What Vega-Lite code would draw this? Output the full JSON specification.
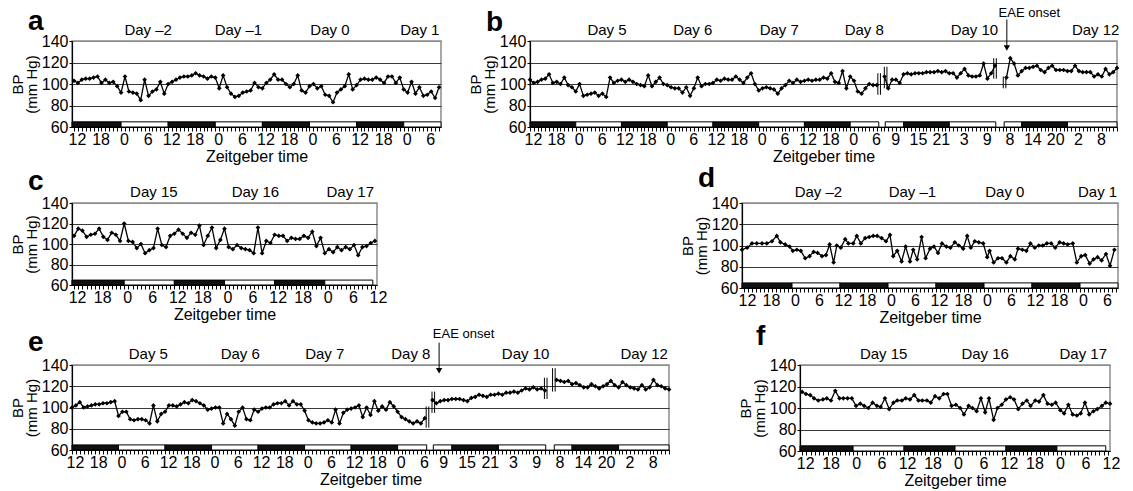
{
"$schema": "https://vega.github.io/schema/vega-lite/v6.json",
"padding": {"left": 9, "top": 6, "right": 0, "bottom": 0},
"bounds": "flush",
"spacing": 162,
"vconcat": [
 {"hconcat": [
  {"width": 369, "height": 86, "title": {"text": "a", "dy": 17},
   "encoding": {"x": {"field": "h", "type": "quantitative", "scale": {"domain": [-0.5, 93.5], "nice": false, "zero": false}, "axis": {"title": "Zeitgeber time", "tickCount": 94, "labelExpr": "datum.value % 6 === 0 ? '' + ((datum.value + 12) % 24) : ''"}}},
   "layer": [
    {"data": {"name": "phAD"}, "mark": {"type": "rect", "stroke": "black", "strokeWidth": 1}, "encoding": {"x2": {"field": "h2"}, "y": {"datum": 60, "type": "quantitative", "scale": {"domain": [60, 140], "nice": false, "zero": false}, "axis": {"title": ["BP", "(mm Hg)"], "values": [60, 80, 100, 120, 140], "gridColor": {"condition": {"test": "datum.value === 140", "value": "#8c8c8c"}, "value": "#3a3a3a"}}}, "y2": {"datum": 64.8}, "fill": {"field": "p", "type": "nominal", "scale": {"domain": ["dark", "light"], "range": ["#111111", "#ffffff"]}, "legend": null}}},
    {"data": {"name": "bpA"}, "mark": {"type": "line", "color": "black", "strokeWidth": 1.3}, "encoding": {"y": {"field": "bp", "type": "quantitative", "scale": {"domain": [60, 140], "nice": false, "zero": false}, "axis": {"title": ["BP", "(mm Hg)"], "values": [60, 80, 100, 120, 140], "gridColor": {"condition": {"test": "datum.value === 140", "value": "#8c8c8c"}, "value": "#3a3a3a"}}}}},
    {"data": {"name": "bpA"}, "mark": {"type": "point", "shape": "diamond", "filled": true, "color": "black", "size": 22, "opacity": 1}, "encoding": {"y": {"field": "bp", "type": "quantitative", "scale": {"domain": [60, 140], "nice": false, "zero": false}, "axis": {"title": ["BP", "(mm Hg)"], "values": [60, 80, 100, 120, 140], "gridColor": {"condition": {"test": "datum.value === 140", "value": "#8c8c8c"}, "value": "#3a3a3a"}}}}},
    {"data": {"name": "daysA"}, "mark": {"type": "text", "dy": -6, "baseline": "alphabetic", "fontSize": 15}, "encoding": {"y": {"datum": 140, "type": "quantitative", "scale": {"domain": [60, 140], "nice": false, "zero": false}, "axis": {"title": ["BP", "(mm Hg)"], "values": [60, 80, 100, 120, 140], "gridColor": {"condition": {"test": "datum.value === 140", "value": "#8c8c8c"}, "value": "#3a3a3a"}}}, "text": {"field": "label"}}}
   ]},
  {"width": 587, "height": 86, "title": {"text": "b", "dy": 34},
   "encoding": {"x": {"field": "h", "type": "quantitative", "scale": {"domain": [0, 154], "nice": false, "zero": false}, "axis": {"title": "Zeitgeber time", "tickCount": 155, "labelExpr": "indexof([0,6,12,18,24,30,36,42,48,54,60,66,72,78,84,90,95,101,107,113,119,125,131,137,143,149], datum.value) >= 0 ? '' + (datum.value < 92 ? (datum.value + 12) % 24 : datum.value < 124 ? (datum.value - 86) % 24 : (datum.value - 117) % 24) : ''"}}},
   "layer": [
    {"data": {"name": "phBE"}, "mark": {"type": "rect", "stroke": "black", "strokeWidth": 1}, "encoding": {"x2": {"field": "h2"}, "y": {"datum": 60, "type": "quantitative", "scale": {"domain": [60, 140], "nice": false, "zero": false}, "axis": {"title": ["BP", "(mm Hg)"], "values": [60, 80, 100, 120, 140], "gridColor": {"condition": {"test": "datum.value === 140", "value": "#8c8c8c"}, "value": "#3a3a3a"}}}, "y2": {"datum": 64.8}, "fill": {"field": "p", "type": "nominal", "scale": {"domain": ["dark", "light"], "range": ["#111111", "#ffffff"]}, "legend": null}}},
    {"data": {"name": "bpB"}, "mark": {"type": "line", "color": "black", "strokeWidth": 1.3}, "encoding": {"detail": {"field": "s", "type": "nominal"}, "y": {"field": "bp", "type": "quantitative", "scale": {"domain": [60, 140], "nice": false, "zero": false}, "axis": {"title": ["BP", "(mm Hg)"], "values": [60, 80, 100, 120, 140], "gridColor": {"condition": {"test": "datum.value === 140", "value": "#8c8c8c"}, "value": "#3a3a3a"}}}}},
    {"data": {"name": "bpB"}, "mark": {"type": "point", "shape": "diamond", "filled": true, "color": "black", "size": 22, "opacity": 1}, "encoding": {"y": {"field": "bp", "type": "quantitative", "scale": {"domain": [60, 140], "nice": false, "zero": false}, "axis": {"title": ["BP", "(mm Hg)"], "values": [60, 80, 100, 120, 140], "gridColor": {"condition": {"test": "datum.value === 140", "value": "#8c8c8c"}, "value": "#3a3a3a"}}}}},
    {"data": {"name": "brB"}, "mark": {"type": "rule", "color": "black", "strokeWidth": 1, "xOffset": -1.3}, "encoding": {"y": {"field": "lo", "type": "quantitative", "scale": {"domain": [60, 140], "nice": false, "zero": false}, "axis": {"title": ["BP", "(mm Hg)"], "values": [60, 80, 100, 120, 140], "gridColor": {"condition": {"test": "datum.value === 140", "value": "#8c8c8c"}, "value": "#3a3a3a"}}}, "y2": {"field": "hi"}}},
    {"data": {"name": "brB"}, "mark": {"type": "rule", "color": "black", "strokeWidth": 1, "xOffset": 1.3}, "encoding": {"y": {"field": "lo", "type": "quantitative", "scale": {"domain": [60, 140], "nice": false, "zero": false}, "axis": {"title": ["BP", "(mm Hg)"], "values": [60, 80, 100, 120, 140], "gridColor": {"condition": {"test": "datum.value === 140", "value": "#8c8c8c"}, "value": "#3a3a3a"}}}, "y2": {"field": "hi"}}},
    {"data": {"name": "eaeB"}, "mark": {"type": "rule", "color": "black", "strokeWidth": 1}, "encoding": {"y": {"datum": 160, "type": "quantitative", "scale": {"domain": [60, 140], "nice": false, "zero": false}, "axis": {"title": ["BP", "(mm Hg)"], "values": [60, 80, 100, 120, 140], "gridColor": {"condition": {"test": "datum.value === 140", "value": "#8c8c8c"}, "value": "#3a3a3a"}}}, "y2": {"datum": 135}}},
    {"data": {"name": "eaeB"}, "mark": {"type": "point", "shape": "triangle-down", "filled": true, "color": "black", "size": 40, "opacity": 1}, "encoding": {"y": {"datum": 133.5, "type": "quantitative", "scale": {"domain": [60, 140], "nice": false, "zero": false}, "axis": {"title": ["BP", "(mm Hg)"], "values": [60, 80, 100, 120, 140], "gridColor": {"condition": {"test": "datum.value === 140", "value": "#8c8c8c"}, "value": "#3a3a3a"}}}}},
    {"data": {"name": "eaeB"}, "mark": {"type": "text", "dy": -24, "baseline": "alphabetic", "fontSize": 13}, "encoding": {"x": {"field": "ht", "type": "quantitative"}, "y": {"datum": 140, "type": "quantitative", "scale": {"domain": [60, 140], "nice": false, "zero": false}, "axis": {"title": ["BP", "(mm Hg)"], "values": [60, 80, 100, 120, 140], "gridColor": {"condition": {"test": "datum.value === 140", "value": "#8c8c8c"}, "value": "#3a3a3a"}}}, "text": {"field": "label"}}},
    {"data": {"name": "daysB"}, "mark": {"type": "text", "dy": -6, "baseline": "alphabetic", "fontSize": 15}, "encoding": {"y": {"datum": 140, "type": "quantitative", "scale": {"domain": [60, 140], "nice": false, "zero": false}, "axis": {"title": ["BP", "(mm Hg)"], "values": [60, 80, 100, 120, 140], "gridColor": {"condition": {"test": "datum.value === 140", "value": "#8c8c8c"}, "value": "#3a3a3a"}}}, "text": {"field": "label"}}}
   ]}
 ], "spacing": 89, "bounds": "flush"},
 {"hconcat": [
  {"width": 305, "height": 82, "title": {"text": "c", "dy": 15},
   "encoding": {"x": {"field": "h", "type": "quantitative", "scale": {"domain": [-0.5, 72.5], "nice": false, "zero": false}, "axis": {"title": "Zeitgeber time", "tickCount": 73, "labelExpr": "datum.value % 6 === 0 ? '' + ((datum.value + 12) % 24) : ''"}}},
   "layer": [
    {"data": {"name": "phCF"}, "mark": {"type": "rect", "stroke": "black", "strokeWidth": 1}, "encoding": {"x2": {"field": "h2"}, "y": {"datum": 60, "type": "quantitative", "scale": {"domain": [60, 140], "nice": false, "zero": false}, "axis": {"title": ["BP", "(mm Hg)"], "values": [60, 80, 100, 120, 140], "gridColor": {"condition": {"test": "datum.value === 140", "value": "#8c8c8c"}, "value": "#3a3a3a"}}}, "y2": {"datum": 64.8}, "fill": {"field": "p", "type": "nominal", "scale": {"domain": ["dark", "light"], "range": ["#111111", "#ffffff"]}, "legend": null}}},
    {"data": {"name": "bpC"}, "mark": {"type": "line", "color": "black", "strokeWidth": 1.3}, "encoding": {"y": {"field": "bp", "type": "quantitative", "scale": {"domain": [60, 140], "nice": false, "zero": false}, "axis": {"title": ["BP", "(mm Hg)"], "values": [60, 80, 100, 120, 140], "gridColor": {"condition": {"test": "datum.value === 140", "value": "#8c8c8c"}, "value": "#3a3a3a"}}}}},
    {"data": {"name": "bpC"}, "mark": {"type": "point", "shape": "diamond", "filled": true, "color": "black", "size": 22, "opacity": 1}, "encoding": {"y": {"field": "bp", "type": "quantitative", "scale": {"domain": [60, 140], "nice": false, "zero": false}, "axis": {"title": ["BP", "(mm Hg)"], "values": [60, 80, 100, 120, 140], "gridColor": {"condition": {"test": "datum.value === 140", "value": "#8c8c8c"}, "value": "#3a3a3a"}}}}},
    {"data": {"name": "daysC"}, "mark": {"type": "text", "dy": -6, "baseline": "alphabetic", "fontSize": 15}, "encoding": {"y": {"datum": 140, "type": "quantitative", "scale": {"domain": [60, 140], "nice": false, "zero": false}, "axis": {"title": ["BP", "(mm Hg)"], "values": [60, 80, 100, 120, 140], "gridColor": {"condition": {"test": "datum.value === 140", "value": "#8c8c8c"}, "value": "#3a3a3a"}}}, "text": {"field": "label"}}}
   ]},
  {"width": 376, "height": 85, "title": {"text": "d", "dy": 12},
   "encoding": {"x": {"field": "h", "type": "quantitative", "scale": {"domain": [-0.5, 93.5], "nice": false, "zero": false}, "axis": {"title": "Zeitgeber time", "tickCount": 94, "labelExpr": "datum.value % 6 === 0 ? '' + ((datum.value + 12) % 24) : ''"}}},
   "layer": [
    {"data": {"name": "phAD"}, "mark": {"type": "rect", "stroke": "black", "strokeWidth": 1}, "encoding": {"x2": {"field": "h2"}, "y": {"datum": 60, "type": "quantitative", "scale": {"domain": [60, 140], "nice": false, "zero": false}, "axis": {"title": ["BP", "(mm Hg)"], "values": [60, 80, 100, 120, 140], "gridColor": {"condition": {"test": "datum.value === 140", "value": "#8c8c8c"}, "value": "#3a3a3a"}}}, "y2": {"datum": 64.8}, "fill": {"field": "p", "type": "nominal", "scale": {"domain": ["dark", "light"], "range": ["#111111", "#ffffff"]}, "legend": null}}},
    {"data": {"name": "bpD"}, "mark": {"type": "line", "color": "black", "strokeWidth": 1.3}, "encoding": {"y": {"field": "bp", "type": "quantitative", "scale": {"domain": [60, 140], "nice": false, "zero": false}, "axis": {"title": ["BP", "(mm Hg)"], "values": [60, 80, 100, 120, 140], "gridColor": {"condition": {"test": "datum.value === 140", "value": "#8c8c8c"}, "value": "#3a3a3a"}}}}},
    {"data": {"name": "bpD"}, "mark": {"type": "point", "shape": "diamond", "filled": true, "color": "black", "size": 22, "opacity": 1}, "encoding": {"y": {"field": "bp", "type": "quantitative", "scale": {"domain": [60, 140], "nice": false, "zero": false}, "axis": {"title": ["BP", "(mm Hg)"], "values": [60, 80, 100, 120, 140], "gridColor": {"condition": {"test": "datum.value === 140", "value": "#8c8c8c"}, "value": "#3a3a3a"}}}}},
    {"data": {"name": "daysD"}, "mark": {"type": "text", "dy": -6, "baseline": "alphabetic", "fontSize": 15}, "encoding": {"y": {"datum": 140, "type": "quantitative", "scale": {"domain": [60, 140], "nice": false, "zero": false}, "axis": {"title": ["BP", "(mm Hg)"], "values": [60, 80, 100, 120, 140], "gridColor": {"condition": {"test": "datum.value === 140", "value": "#8c8c8c"}, "value": "#3a3a3a"}}}, "text": {"field": "label"}}}
   ]}
 ], "spacing": 365, "bounds": "flush"},
 {"hconcat": [
  {"width": 597, "height": 85, "title": {"text": "e", "dy": 33},
   "encoding": {"x": {"field": "h", "type": "quantitative", "scale": {"domain": [0, 154], "nice": false, "zero": false}, "axis": {"title": "Zeitgeber time", "tickCount": 155, "labelExpr": "indexof([0,6,12,18,24,30,36,42,48,54,60,66,72,78,84,90,95,101,107,113,119,125,131,137,143,149], datum.value) >= 0 ? '' + (datum.value < 92 ? (datum.value + 12) % 24 : datum.value < 124 ? (datum.value - 86) % 24 : (datum.value - 117) % 24) : ''"}}},
   "layer": [
    {"data": {"name": "phBE"}, "mark": {"type": "rect", "stroke": "black", "strokeWidth": 1}, "encoding": {"x2": {"field": "h2"}, "y": {"datum": 60, "type": "quantitative", "scale": {"domain": [60, 140], "nice": false, "zero": false}, "axis": {"title": ["BP", "(mm Hg)"], "values": [60, 80, 100, 120, 140], "gridColor": {"condition": {"test": "datum.value === 140", "value": "#8c8c8c"}, "value": "#3a3a3a"}}}, "y2": {"datum": 64.8}, "fill": {"field": "p", "type": "nominal", "scale": {"domain": ["dark", "light"], "range": ["#111111", "#ffffff"]}, "legend": null}}},
    {"data": {"name": "bpE"}, "mark": {"type": "line", "color": "black", "strokeWidth": 1.3}, "encoding": {"detail": {"field": "s", "type": "nominal"}, "y": {"field": "bp", "type": "quantitative", "scale": {"domain": [60, 140], "nice": false, "zero": false}, "axis": {"title": ["BP", "(mm Hg)"], "values": [60, 80, 100, 120, 140], "gridColor": {"condition": {"test": "datum.value === 140", "value": "#8c8c8c"}, "value": "#3a3a3a"}}}}},
    {"data": {"name": "bpE"}, "mark": {"type": "point", "shape": "diamond", "filled": true, "color": "black", "size": 22, "opacity": 1}, "encoding": {"y": {"field": "bp", "type": "quantitative", "scale": {"domain": [60, 140], "nice": false, "zero": false}, "axis": {"title": ["BP", "(mm Hg)"], "values": [60, 80, 100, 120, 140], "gridColor": {"condition": {"test": "datum.value === 140", "value": "#8c8c8c"}, "value": "#3a3a3a"}}}}},
    {"data": {"name": "brE"}, "mark": {"type": "rule", "color": "black", "strokeWidth": 1, "xOffset": -1.3}, "encoding": {"y": {"field": "lo", "type": "quantitative", "scale": {"domain": [60, 140], "nice": false, "zero": false}, "axis": {"title": ["BP", "(mm Hg)"], "values": [60, 80, 100, 120, 140], "gridColor": {"condition": {"test": "datum.value === 140", "value": "#8c8c8c"}, "value": "#3a3a3a"}}}, "y2": {"field": "hi"}}},
    {"data": {"name": "brE"}, "mark": {"type": "rule", "color": "black", "strokeWidth": 1, "xOffset": 1.3}, "encoding": {"y": {"field": "lo", "type": "quantitative", "scale": {"domain": [60, 140], "nice": false, "zero": false}, "axis": {"title": ["BP", "(mm Hg)"], "values": [60, 80, 100, 120, 140], "gridColor": {"condition": {"test": "datum.value === 140", "value": "#8c8c8c"}, "value": "#3a3a3a"}}}, "y2": {"field": "hi"}}},
    {"data": {"name": "eaeE"}, "mark": {"type": "rule", "color": "black", "strokeWidth": 1}, "encoding": {"y": {"datum": 161, "type": "quantitative", "scale": {"domain": [60, 140], "nice": false, "zero": false}, "axis": {"title": ["BP", "(mm Hg)"], "values": [60, 80, 100, 120, 140], "gridColor": {"condition": {"test": "datum.value === 140", "value": "#8c8c8c"}, "value": "#3a3a3a"}}}, "y2": {"datum": 136}}},
    {"data": {"name": "eaeE"}, "mark": {"type": "point", "shape": "triangle-down", "filled": true, "color": "black", "size": 40, "opacity": 1}, "encoding": {"y": {"datum": 134.5, "type": "quantitative", "scale": {"domain": [60, 140], "nice": false, "zero": false}, "axis": {"title": ["BP", "(mm Hg)"], "values": [60, 80, 100, 120, 140], "gridColor": {"condition": {"test": "datum.value === 140", "value": "#8c8c8c"}, "value": "#3a3a3a"}}}}},
    {"data": {"name": "eaeE"}, "mark": {"type": "text", "dy": -27, "baseline": "alphabetic", "fontSize": 13}, "encoding": {"x": {"field": "ht", "type": "quantitative"}, "y": {"datum": 140, "type": "quantitative", "scale": {"domain": [60, 140], "nice": false, "zero": false}, "axis": {"title": ["BP", "(mm Hg)"], "values": [60, 80, 100, 120, 140], "gridColor": {"condition": {"test": "datum.value === 140", "value": "#8c8c8c"}, "value": "#3a3a3a"}}}, "text": {"field": "label"}}},
    {"data": {"name": "daysE"}, "mark": {"type": "text", "dy": -6, "baseline": "alphabetic", "fontSize": 15}, "encoding": {"y": {"datum": 140, "type": "quantitative", "scale": {"domain": [60, 140], "nice": false, "zero": false}, "axis": {"title": ["BP", "(mm Hg)"], "values": [60, 80, 100, 120, 140], "gridColor": {"condition": {"test": "datum.value === 140", "value": "#8c8c8c"}, "value": "#3a3a3a"}}}, "text": {"field": "label"}}}
   ]},
  {"width": 310, "height": 86, "title": {"text": "f", "dy": 8},
   "encoding": {"x": {"field": "h", "type": "quantitative", "scale": {"domain": [-0.5, 72.5], "nice": false, "zero": false}, "axis": {"title": "Zeitgeber time", "tickCount": 73, "labelExpr": "datum.value % 6 === 0 ? '' + ((datum.value + 12) % 24) : ''"}}},
   "layer": [
    {"data": {"name": "phCF"}, "mark": {"type": "rect", "stroke": "black", "strokeWidth": 1}, "encoding": {"x2": {"field": "h2"}, "y": {"datum": 60, "type": "quantitative", "scale": {"domain": [60, 140], "nice": false, "zero": false}, "axis": {"title": ["BP", "(mm Hg)"], "values": [60, 80, 100, 120, 140], "gridColor": {"condition": {"test": "datum.value === 140", "value": "#8c8c8c"}, "value": "#3a3a3a"}}}, "y2": {"datum": 64.8}, "fill": {"field": "p", "type": "nominal", "scale": {"domain": ["dark", "light"], "range": ["#111111", "#ffffff"]}, "legend": null}}},
    {"data": {"name": "bpF"}, "mark": {"type": "line", "color": "black", "strokeWidth": 1.3}, "encoding": {"y": {"field": "bp", "type": "quantitative", "scale": {"domain": [60, 140], "nice": false, "zero": false}, "axis": {"title": ["BP", "(mm Hg)"], "values": [60, 80, 100, 120, 140], "gridColor": {"condition": {"test": "datum.value === 140", "value": "#8c8c8c"}, "value": "#3a3a3a"}}}}},
    {"data": {"name": "bpF"}, "mark": {"type": "point", "shape": "diamond", "filled": true, "color": "black", "size": 22, "opacity": 1}, "encoding": {"y": {"field": "bp", "type": "quantitative", "scale": {"domain": [60, 140], "nice": false, "zero": false}, "axis": {"title": ["BP", "(mm Hg)"], "values": [60, 80, 100, 120, 140], "gridColor": {"condition": {"test": "datum.value === 140", "value": "#8c8c8c"}, "value": "#3a3a3a"}}}}},
    {"data": {"name": "daysF"}, "mark": {"type": "text", "dy": -6, "baseline": "alphabetic", "fontSize": 15}, "encoding": {"y": {"datum": 140, "type": "quantitative", "scale": {"domain": [60, 140], "nice": false, "zero": false}, "axis": {"title": ["BP", "(mm Hg)"], "values": [60, 80, 100, 120, 140], "gridColor": {"condition": {"test": "datum.value === 140", "value": "#8c8c8c"}, "value": "#3a3a3a"}}}, "text": {"field": "label"}}}
   ]}
 ], "spacing": 131, "bounds": "flush"}
],
"datasets": {
 "phAD": [{"h":-0.5,"h2":12,"p":"dark"},{"h":12,"h2":24,"p":"light"},{"h":24,"h2":36,"p":"dark"},{"h":36,"h2":48,"p":"light"},{"h":48,"h2":60,"p":"dark"},{"h":60,"h2":72,"p":"light"},{"h":72,"h2":84,"p":"dark"},{"h":84,"h2":93.5,"p":"light"}],
 "phBE": [{"h":0,"h2":12,"p":"dark"},{"h":12,"h2":24,"p":"light"},{"h":24,"h2":36,"p":"dark"},{"h":36,"h2":48,"p":"light"},{"h":48,"h2":60,"p":"dark"},{"h":60,"h2":72,"p":"light"},{"h":72,"h2":84,"p":"dark"},{"h":84,"h2":91.5,"p":"light"},{"h":93.2,"h2":98,"p":"light"},{"h":98,"h2":110,"p":"dark"},{"h":110,"h2":122.2,"p":"light"},{"h":124.4,"h2":129,"p":"light"},{"h":129,"h2":141,"p":"dark"},{"h":141,"h2":154,"p":"light"}],
 "phCF": [{"h":-0.5,"h2":12,"p":"dark"},{"h":12,"h2":24,"p":"light"},{"h":24,"h2":36,"p":"dark"},{"h":36,"h2":48,"p":"light"},{"h":48,"h2":60,"p":"dark"},{"h":60,"h2":71.5,"p":"light"}],
 "daysA": [{"h":18.9,"label":"Day –2"},{"h":41.9,"label":"Day –1"},{"h":65.2,"label":"Day 0"},{"h":88.1,"label":"Day 1"}],
 "daysB": [{"h":20.2,"label":"Day 5"},{"h":42.7,"label":"Day 6"},{"h":65.4,"label":"Day 7"},{"h":87.7,"label":"Day 8"},{"h":116.6,"label":"Day 10"},{"h":148.4,"label":"Day 12"}],
 "daysC": [{"h":19.1,"label":"Day 15"},{"h":43.4,"label":"Day  16"},{"h":66.1,"label":"Day 17"}],
 "daysD": [{"h":18.6,"label":"Day –2"},{"h":42.1,"label":"Day –1"},{"h":65.2,"label":"Day 0"},{"h":88.4,"label":"Day 1"}],
 "daysE": [{"h":19.7,"label":"Day 5"},{"h":43.4,"label":"Day  6"},{"h":65.2,"label":"Day 7"},{"h":87.4,"label":"Day 8"},{"h":117,"label":"Day  10"},{"h":147.6,"label":"Day 12"}],
 "daysF": [{"h":19.2,"label":"Day 15"},{"h":43.1,"label":"Day 16"},{"h":66.2,"label":"Day 17"}],
 "eaeB": [{"h":125.1,"ht":131,"label":"EAE onset"}],
 "eaeE": [{"h":94.7,"ht":101,"label":"EAE onset"}],
 "brB": [{"h":91.6,"lo":90,"hi":110},{"h":93.3,"lo":96,"hi":116},{"h":122,"lo":105,"hi":124},{"h":124.5,"lo":96,"hi":107}],
 "brE": [{"h":91.7,"lo":81,"hi":101},{"h":93.2,"lo":95,"hi":115},{"h":122.2,"lo":108,"hi":128},{"h":124.3,"lo":115,"hi":137}],
 "bpA": [{"h":0,"bp":103},{"h":1,"bp":101},{"h":2,"bp":104},{"h":3,"bp":105},{"h":4,"bp":105},{"h":5,"bp":106},{"h":6,"bp":107},{"h":7,"bp":101},{"h":8,"bp":104},{"h":9,"bp":101},{"h":10,"bp":102},{"h":11,"bp":98},{"h":12,"bp":92},{"h":13,"bp":107},{"h":14,"bp":93},{"h":15,"bp":92},{"h":16,"bp":91},{"h":17,"bp":85},{"h":18,"bp":104},{"h":19,"bp":89},{"h":20,"bp":93},{"h":21,"bp":95},{"h":22,"bp":102},{"h":23,"bp":91},{"h":24,"bp":100},{"h":25,"bp":102},{"h":26,"bp":104},{"h":27,"bp":106},{"h":28,"bp":107},{"h":29,"bp":107},{"h":30,"bp":108},{"h":31,"bp":110},{"h":32,"bp":108},{"h":33,"bp":107},{"h":34,"bp":105},{"h":35,"bp":107},{"h":36,"bp":106},{"h":37,"bp":96},{"h":38,"bp":108},{"h":39,"bp":97},{"h":40,"bp":91},{"h":41,"bp":88},{"h":42,"bp":89},{"h":43,"bp":92},{"h":44,"bp":93},{"h":45,"bp":94},{"h":46,"bp":101},{"h":47,"bp":97},{"h":48,"bp":96},{"h":49,"bp":101},{"h":50,"bp":104},{"h":51,"bp":109},{"h":52,"bp":104},{"h":53,"bp":104},{"h":54,"bp":100},{"h":55,"bp":97},{"h":56,"bp":100},{"h":57,"bp":108},{"h":58,"bp":94},{"h":59,"bp":92},{"h":60,"bp":98},{"h":61,"bp":100},{"h":62,"bp":96},{"h":63,"bp":98},{"h":64,"bp":90},{"h":65,"bp":89},{"h":66,"bp":83},{"h":67,"bp":92},{"h":68,"bp":95},{"h":69,"bp":98},{"h":70,"bp":109},{"h":71,"bp":95},{"h":72,"bp":99},{"h":73,"bp":104},{"h":74,"bp":105},{"h":75,"bp":104},{"h":76,"bp":104},{"h":77,"bp":106},{"h":78,"bp":104},{"h":79,"bp":101},{"h":80,"bp":107},{"h":81,"bp":107},{"h":82,"bp":101},{"h":83,"bp":106},{"h":84,"bp":95},{"h":85,"bp":92},{"h":86,"bp":102},{"h":87,"bp":91},{"h":88,"bp":97},{"h":89,"bp":89},{"h":90,"bp":90},{"h":91,"bp":93},{"h":92,"bp":87},{"h":93,"bp":97}],
 "bpB": [{"s":1,"h":0,"bp":104},{"s":1,"h":1,"bp":101},{"s":1,"h":2,"bp":102},{"s":1,"h":3,"bp":104},{"s":1,"h":4,"bp":105},{"s":1,"h":5,"bp":109},{"s":1,"h":6,"bp":101},{"s":1,"h":7,"bp":102},{"s":1,"h":8,"bp":100},{"s":1,"h":9,"bp":106},{"s":1,"h":10,"bp":99},{"s":1,"h":11,"bp":97},{"s":1,"h":12,"bp":93},{"s":1,"h":13,"bp":100},{"s":1,"h":14,"bp":89},{"s":1,"h":15,"bp":90},{"s":1,"h":16,"bp":91},{"s":1,"h":17,"bp":92},{"s":1,"h":18,"bp":89},{"s":1,"h":19,"bp":91},{"s":1,"h":20,"bp":88},{"s":1,"h":21,"bp":106},{"s":1,"h":22,"bp":101},{"s":1,"h":23,"bp":103},{"s":1,"h":24,"bp":104},{"s":1,"h":25,"bp":102},{"s":1,"h":26,"bp":104},{"s":1,"h":27,"bp":102},{"s":1,"h":28,"bp":100},{"s":1,"h":29,"bp":99},{"s":1,"h":30,"bp":98},{"s":1,"h":31,"bp":108},{"s":1,"h":32,"bp":98},{"s":1,"h":33,"bp":102},{"s":1,"h":34,"bp":106},{"s":1,"h":35,"bp":100},{"s":1,"h":36,"bp":99},{"s":1,"h":37,"bp":97},{"s":1,"h":38,"bp":96},{"s":1,"h":39,"bp":96},{"s":1,"h":40,"bp":92},{"s":1,"h":41,"bp":97},{"s":1,"h":42,"bp":89},{"s":1,"h":43,"bp":96},{"s":1,"h":44,"bp":106},{"s":1,"h":45,"bp":98},{"s":1,"h":46,"bp":100},{"s":1,"h":47,"bp":100},{"s":1,"h":48,"bp":101},{"s":1,"h":49,"bp":104},{"s":1,"h":50,"bp":103},{"s":1,"h":51,"bp":105},{"s":1,"h":52,"bp":104},{"s":1,"h":53,"bp":104},{"s":1,"h":54,"bp":107},{"s":1,"h":55,"bp":104},{"s":1,"h":56,"bp":101},{"s":1,"h":57,"bp":106},{"s":1,"h":58,"bp":110},{"s":1,"h":59,"bp":100},{"s":1,"h":60,"bp":94},{"s":1,"h":61,"bp":96},{"s":1,"h":62,"bp":97},{"s":1,"h":63,"bp":96},{"s":1,"h":64,"bp":95},{"s":1,"h":65,"bp":91},{"s":1,"h":66,"bp":96},{"s":1,"h":67,"bp":99},{"s":1,"h":68,"bp":103},{"s":1,"h":69,"bp":101},{"s":1,"h":70,"bp":104},{"s":1,"h":71,"bp":102},{"s":1,"h":72,"bp":103},{"s":1,"h":73,"bp":104},{"s":1,"h":74,"bp":103},{"s":1,"h":75,"bp":104},{"s":1,"h":76,"bp":104},{"s":1,"h":77,"bp":106},{"s":1,"h":78,"bp":105},{"s":1,"h":79,"bp":110},{"s":1,"h":80,"bp":102},{"s":1,"h":81,"bp":101},{"s":1,"h":82,"bp":112},{"s":1,"h":83,"bp":96},{"s":1,"h":84,"bp":107},{"s":1,"h":85,"bp":103},{"s":1,"h":86,"bp":93},{"s":1,"h":87,"bp":91},{"s":1,"h":88,"bp":96},{"s":1,"h":89,"bp":100},{"s":1,"h":90,"bp":99},{"s":1,"h":91,"bp":99},
  {"s":2,"h":93,"bp":107},{"s":2,"h":94,"bp":96},{"s":2,"h":95,"bp":104},{"s":2,"h":96,"bp":104},{"s":2,"h":97,"bp":101},{"s":2,"h":98,"bp":109},{"s":2,"h":99,"bp":110},{"s":2,"h":100,"bp":109},{"s":2,"h":101,"bp":110},{"s":2,"h":102,"bp":110},{"s":2,"h":103,"bp":110},{"s":2,"h":104,"bp":111},{"s":2,"h":105,"bp":111},{"s":2,"h":106,"bp":111},{"s":2,"h":107,"bp":112},{"s":2,"h":108,"bp":111},{"s":2,"h":109,"bp":112},{"s":2,"h":110,"bp":110},{"s":2,"h":111,"bp":110},{"s":2,"h":112,"bp":106},{"s":2,"h":113,"bp":110},{"s":2,"h":114,"bp":114},{"s":2,"h":115,"bp":108},{"s":2,"h":116,"bp":107},{"s":2,"h":117,"bp":107},{"s":2,"h":118,"bp":108},{"s":2,"h":119,"bp":119},{"s":2,"h":120,"bp":105},{"s":2,"h":121,"bp":110},{"s":2,"h":122,"bp":117},
  {"s":3,"h":125,"bp":106},{"s":3,"h":126,"bp":124},{"s":3,"h":127,"bp":119},{"s":3,"h":128,"bp":108},{"s":3,"h":129,"bp":112},{"s":3,"h":130,"bp":115},{"s":3,"h":131,"bp":115},{"s":3,"h":132,"bp":116},{"s":3,"h":133,"bp":117},{"s":3,"h":134,"bp":113},{"s":3,"h":135,"bp":111},{"s":3,"h":136,"bp":115},{"s":3,"h":137,"bp":117},{"s":3,"h":138,"bp":113},{"s":3,"h":139,"bp":113},{"s":3,"h":140,"bp":113},{"s":3,"h":141,"bp":112},{"s":3,"h":142,"bp":112},{"s":3,"h":143,"bp":117},{"s":3,"h":144,"bp":112},{"s":3,"h":145,"bp":111},{"s":3,"h":146,"bp":111},{"s":3,"h":147,"bp":111},{"s":3,"h":148,"bp":107},{"s":3,"h":149,"bp":109},{"s":3,"h":150,"bp":107},{"s":3,"h":151,"bp":114},{"s":3,"h":152,"bp":109},{"s":3,"h":153,"bp":111},{"s":3,"h":154,"bp":115}],
 "bpC": [{"h":0,"bp":108},{"h":1,"bp":115},{"h":2,"bp":113},{"h":3,"bp":107},{"h":4,"bp":109},{"h":5,"bp":110},{"h":6,"bp":115},{"h":7,"bp":107},{"h":8,"bp":104},{"h":9,"bp":111},{"h":10,"bp":109},{"h":11,"bp":103},{"h":12,"bp":120},{"h":13,"bp":103},{"h":14,"bp":102},{"h":15,"bp":96},{"h":16,"bp":100},{"h":17,"bp":91},{"h":18,"bp":94},{"h":19,"bp":96},{"h":20,"bp":115},{"h":21,"bp":99},{"h":22,"bp":97},{"h":23,"bp":108},{"h":24,"bp":110},{"h":25,"bp":114},{"h":26,"bp":110},{"h":27,"bp":106},{"h":28,"bp":111},{"h":29,"bp":109},{"h":30,"bp":118},{"h":31,"bp":99},{"h":32,"bp":108},{"h":33,"bp":116},{"h":34,"bp":96},{"h":35,"bp":104},{"h":36,"bp":115},{"h":37,"bp":97},{"h":38,"bp":95},{"h":39,"bp":99},{"h":40,"bp":96},{"h":41,"bp":95},{"h":42,"bp":94},{"h":43,"bp":91},{"h":44,"bp":116},{"h":45,"bp":91},{"h":46,"bp":103},{"h":47,"bp":101},{"h":48,"bp":109},{"h":49,"bp":108},{"h":50,"bp":108},{"h":51,"bp":103},{"h":52,"bp":106},{"h":53,"bp":105},{"h":54,"bp":105},{"h":55,"bp":108},{"h":56,"bp":106},{"h":57,"bp":112},{"h":58,"bp":98},{"h":59,"bp":106},{"h":60,"bp":91},{"h":61,"bp":95},{"h":62,"bp":92},{"h":63,"bp":97},{"h":64,"bp":94},{"h":65,"bp":97},{"h":66,"bp":95},{"h":67,"bp":99},{"h":68,"bp":89},{"h":69,"bp":97},{"h":70,"bp":98},{"h":71,"bp":101},{"h":72,"bp":103}],
 "bpD": [{"h":-0.5,"bp":96},{"h":0.8,"bp":98},{"h":2,"bp":102},{"h":3.2,"bp":102},{"h":4.5,"bp":102},{"h":5.7,"bp":102},{"h":7,"bp":104},{"h":8.2,"bp":109},{"h":9.1,"bp":103},{"h":10.3,"bp":101},{"h":11.4,"bp":99},{"h":12.2,"bp":95},{"h":13.2,"bp":96},{"h":14.2,"bp":95},{"h":15.3,"bp":88},{"h":16.4,"bp":90},{"h":17.4,"bp":94},{"h":18.4,"bp":93},{"h":19.5,"bp":90},{"h":20.5,"bp":91},{"h":21.4,"bp":101},{"h":22.4,"bp":84},{"h":23.2,"bp":100},{"h":24.2,"bp":98},{"h":25.3,"bp":106},{"h":26.1,"bp":102},{"h":27.3,"bp":102},{"h":28.2,"bp":109},{"h":29.2,"bp":102},{"h":30.3,"bp":107},{"h":31.3,"bp":108},{"h":32.3,"bp":109},{"h":33.3,"bp":109},{"h":34.4,"bp":107},{"h":35.5,"bp":104},{"h":36.5,"bp":110},{"h":37.3,"bp":90},{"h":38.3,"bp":95},{"h":39.4,"bp":85},{"h":40.4,"bp":99},{"h":41.5,"bp":85},{"h":42.3,"bp":96},{"h":43.3,"bp":87},{"h":44.4,"bp":108},{"h":45.4,"bp":88},{"h":46.5,"bp":97},{"h":47.5,"bp":99},{"h":48.5,"bp":93},{"h":49.5,"bp":102},{"h":50.6,"bp":99},{"h":51.6,"bp":98},{"h":52.7,"bp":103},{"h":53.7,"bp":100},{"h":54.8,"bp":97},{"h":55.8,"bp":109},{"h":56.7,"bp":98},{"h":57.7,"bp":104},{"h":58.7,"bp":103},{"h":59.8,"bp":102},{"h":60.8,"bp":89},{"h":61.4,"bp":95},{"h":62.4,"bp":84},{"h":63.5,"bp":88},{"h":64.5,"bp":88},{"h":65.6,"bp":84},{"h":66.6,"bp":90},{"h":67.7,"bp":87},{"h":68.5,"bp":97},{"h":69.6,"bp":96},{"h":70.6,"bp":95},{"h":71.6,"bp":102},{"h":72.7,"bp":98},{"h":73.7,"bp":100},{"h":74.7,"bp":100},{"h":75.7,"bp":102},{"h":76.8,"bp":102},{"h":77.8,"bp":98},{"h":78.9,"bp":103},{"h":79.9,"bp":102},{"h":80.9,"bp":101},{"h":82.2,"bp":102},{"h":83.2,"bp":84},{"h":84.3,"bp":90},{"h":85.3,"bp":91},{"h":86.4,"bp":83},{"h":87.4,"bp":87},{"h":88.4,"bp":89},{"h":89.4,"bp":86},{"h":90.5,"bp":92},{"h":91.5,"bp":81},{"h":92.6,"bp":96}],
 "bpE": [{"s":1,"h":0,"bp":100},{"s":1,"h":1,"bp":102},{"s":1,"h":2,"bp":105},{"s":1,"h":3,"bp":100},{"s":1,"h":4,"bp":101},{"s":1,"h":5,"bp":102},{"s":1,"h":6,"bp":103},{"s":1,"h":7,"bp":103},{"s":1,"h":8,"bp":104},{"s":1,"h":9,"bp":104},{"s":1,"h":10,"bp":105},{"s":1,"h":11,"bp":106},{"s":1,"h":12,"bp":92},{"s":1,"h":13,"bp":96},{"s":1,"h":14,"bp":96},{"s":1,"h":15,"bp":89},{"s":1,"h":16,"bp":88},{"s":1,"h":17,"bp":89},{"s":1,"h":18,"bp":89},{"s":1,"h":19,"bp":88},{"s":1,"h":20,"bp":85},{"s":1,"h":21,"bp":102},{"s":1,"h":22,"bp":87},{"s":1,"h":23,"bp":94},{"s":1,"h":24,"bp":96},{"s":1,"h":25,"bp":102},{"s":1,"h":26,"bp":102},{"s":1,"h":27,"bp":101},{"s":1,"h":28,"bp":103},{"s":1,"h":29,"bp":105},{"s":1,"h":30,"bp":104},{"s":1,"h":31,"bp":107},{"s":1,"h":32,"bp":106},{"s":1,"h":33,"bp":104},{"s":1,"h":34,"bp":102},{"s":1,"h":35,"bp":98},{"s":1,"h":36,"bp":99},{"s":1,"h":37,"bp":100},{"s":1,"h":38,"bp":100},{"s":1,"h":39,"bp":85},{"s":1,"h":40,"bp":94},{"s":1,"h":41,"bp":89},{"s":1,"h":42,"bp":83},{"s":1,"h":43,"bp":96},{"s":1,"h":44,"bp":100},{"s":1,"h":45,"bp":89},{"s":1,"h":46,"bp":88},{"s":1,"h":47,"bp":98},{"s":1,"h":48,"bp":96},{"s":1,"h":49,"bp":99},{"s":1,"h":50,"bp":100},{"s":1,"h":51,"bp":100},{"s":1,"h":52,"bp":103},{"s":1,"h":53,"bp":104},{"s":1,"h":54,"bp":104},{"s":1,"h":55,"bp":106},{"s":1,"h":56,"bp":102},{"s":1,"h":57,"bp":106},{"s":1,"h":58,"bp":103},{"s":1,"h":59,"bp":103},{"s":1,"h":60,"bp":97},{"s":1,"h":61,"bp":88},{"s":1,"h":62,"bp":86},{"s":1,"h":63,"bp":85},{"s":1,"h":64,"bp":85},{"s":1,"h":65,"bp":86},{"s":1,"h":66,"bp":88},{"s":1,"h":67,"bp":86},{"s":1,"h":68,"bp":98},{"s":1,"h":69,"bp":85},{"s":1,"h":70,"bp":95},{"s":1,"h":71,"bp":98},{"s":1,"h":72,"bp":99},{"s":1,"h":73,"bp":100},{"s":1,"h":74,"bp":102},{"s":1,"h":75,"bp":91},{"s":1,"h":76,"bp":100},{"s":1,"h":77,"bp":93},{"s":1,"h":78,"bp":106},{"s":1,"h":79,"bp":97},{"s":1,"h":80,"bp":101},{"s":1,"h":81,"bp":98},{"s":1,"h":82,"bp":105},{"s":1,"h":83,"bp":101},{"s":1,"h":84,"bp":96},{"s":1,"h":85,"bp":91},{"s":1,"h":86,"bp":89},{"s":1,"h":87,"bp":87},{"s":1,"h":88,"bp":85},{"s":1,"h":89,"bp":87},{"s":1,"h":90,"bp":85},{"s":1,"h":91,"bp":90},
  {"s":2,"h":93,"bp":107},{"s":2,"h":94,"bp":104},{"s":2,"h":95,"bp":106},{"s":2,"h":96,"bp":107},{"s":2,"h":97,"bp":107},{"s":2,"h":98,"bp":108},{"s":2,"h":99,"bp":108},{"s":2,"h":100,"bp":108},{"s":2,"h":101,"bp":107},{"s":2,"h":102,"bp":106},{"s":2,"h":103,"bp":109},{"s":2,"h":104,"bp":110},{"s":2,"h":105,"bp":112},{"s":2,"h":106,"bp":111},{"s":2,"h":107,"bp":110},{"s":2,"h":108,"bp":112},{"s":2,"h":109,"bp":112},{"s":2,"h":110,"bp":113},{"s":2,"h":111,"bp":112},{"s":2,"h":112,"bp":114},{"s":2,"h":113,"bp":114},{"s":2,"h":114,"bp":115},{"s":2,"h":115,"bp":114},{"s":2,"h":116,"bp":116},{"s":2,"h":117,"bp":118},{"s":2,"h":118,"bp":117},{"s":2,"h":119,"bp":119},{"s":2,"h":120,"bp":117},{"s":2,"h":121,"bp":118},{"s":2,"h":122,"bp":116},
  {"s":3,"h":125,"bp":126},{"s":3,"h":126,"bp":125},{"s":3,"h":127,"bp":124},{"s":3,"h":128,"bp":125},{"s":3,"h":129,"bp":122},{"s":3,"h":130,"bp":123},{"s":3,"h":131,"bp":121},{"s":3,"h":132,"bp":119},{"s":3,"h":133,"bp":119},{"s":3,"h":134,"bp":122},{"s":3,"h":135,"bp":120},{"s":3,"h":136,"bp":118},{"s":3,"h":137,"bp":120},{"s":3,"h":138,"bp":122},{"s":3,"h":139,"bp":125},{"s":3,"h":140,"bp":121},{"s":3,"h":141,"bp":119},{"s":3,"h":142,"bp":124},{"s":3,"h":143,"bp":121},{"s":3,"h":144,"bp":119},{"s":3,"h":145,"bp":118},{"s":3,"h":146,"bp":117},{"s":3,"h":147,"bp":121},{"s":3,"h":148,"bp":117},{"s":3,"h":149,"bp":119},{"s":3,"h":150,"bp":126},{"s":3,"h":151,"bp":121},{"s":3,"h":152,"bp":120},{"s":3,"h":153,"bp":118},{"s":3,"h":154,"bp":117}],
 "bpF": [{"h":0,"bp":115},{"h":0.9,"bp":113},{"h":1.9,"bp":112},{"h":2.8,"bp":109},{"h":3.8,"bp":107},{"h":4.9,"bp":108},{"h":5.8,"bp":109},{"h":6.8,"bp":107},{"h":7.8,"bp":116},{"h":8.8,"bp":109},{"h":9.7,"bp":109},{"h":10.7,"bp":109},{"h":11.7,"bp":109},{"h":12.7,"bp":102},{"h":13.7,"bp":104},{"h":14.6,"bp":102},{"h":15.6,"bp":100},{"h":16.6,"bp":105},{"h":17.6,"bp":102},{"h":18.5,"bp":101},{"h":19.5,"bp":109},{"h":20.5,"bp":99},{"h":21.5,"bp":105},{"h":22.4,"bp":107},{"h":23.5,"bp":107},{"h":24.4,"bp":109},{"h":25.4,"bp":108},{"h":26.4,"bp":112},{"h":27.4,"bp":107},{"h":28.3,"bp":107},{"h":29.4,"bp":107},{"h":30.3,"bp":105},{"h":31.3,"bp":111},{"h":32.3,"bp":109},{"h":33.3,"bp":113},{"h":34.2,"bp":113},{"h":35.2,"bp":102},{"h":36.2,"bp":103},{"h":37.2,"bp":100},{"h":38.1,"bp":94},{"h":39.2,"bp":102},{"h":40.1,"bp":100},{"h":41.1,"bp":97},{"h":42.1,"bp":109},{"h":43.1,"bp":96},{"h":44,"bp":109},{"h":45.1,"bp":89},{"h":46,"bp":100},{"h":47,"bp":103},{"h":48,"bp":108},{"h":49,"bp":110},{"h":49.9,"bp":108},{"h":50.9,"bp":99},{"h":51.9,"bp":104},{"h":52.9,"bp":107},{"h":53.8,"bp":102},{"h":54.9,"bp":107},{"h":55.8,"bp":106},{"h":56.8,"bp":112},{"h":57.8,"bp":104},{"h":58.8,"bp":103},{"h":59.7,"bp":105},{"h":60.8,"bp":98},{"h":61.7,"bp":95},{"h":62.7,"bp":103},{"h":63.7,"bp":94},{"h":64.7,"bp":93},{"h":65.6,"bp":95},{"h":66.6,"bp":105},{"h":67.6,"bp":94},{"h":68.6,"bp":97},{"h":69.5,"bp":99},{"h":70.6,"bp":102},{"h":71.5,"bp":105},{"h":72.5,"bp":104}]
},
"config": {
 "font": "Liberation Sans",
 "view": {"stroke": "#8c8c8c", "strokeWidth": 1.5},
 "title": {"anchor": "start", "frame": "group", "fontSize": 28, "fontWeight": "bold", "baseline": "alphabetic", "dx": -44, "offset": 0, "color": "black", "font": "Liberation Sans"},
 "axis": {"labelFontSize": 16, "titleFontSize": 16, "titleFontWeight": "normal", "labelColor": "black", "titleColor": "black", "domainColor": "black", "tickColor": "black", "domainWidth": 1.2, "tickWidth": 1, "labelFont": "Liberation Sans", "titleFont": "Liberation Sans"},
 "axisX": {"grid": false, "tickSize": 4, "labelPadding": 0, "titlePadding": 1, "labelOverlap": false, "labelFlush": false, "labelOffset": 3},
 "axisY": {"grid": true, "tickSize": 3, "labelPadding": 1, "titlePadding": 2, "gridWidth": 1, "titleFontSize": 15, "titleLineHeight": 14, "labelOverlap": false},
 "text": {"font": "Liberation Sans", "color": "black"}
}
}
